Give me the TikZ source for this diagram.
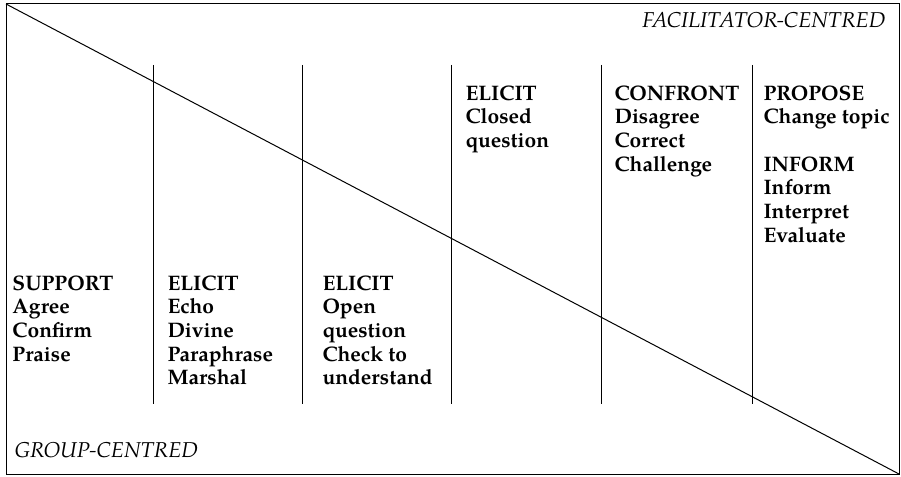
\documentclass[tikz,border=0pt]{standalone}
\usepackage{fontspec}
\setmainfont{TeX Gyre Pagella}
\usetikzlibrary{positioning}

\begin{document}
\begin{tikzpicture}[x=1pt, y=-1pt, line width=1pt,
  moves/.style={anchor=base west, align=left, inner sep=0pt, font=\fontsize{21}{23.7}\selectfont\bfseries},
  pole/.style={inner sep=0pt, font=\fontsize{21.5}{24}\selectfont\itshape}]
    \useasboundingbox (0,0) rectangle (901,476);
    % frame and diagonal
    \draw (6,4) rectangle (899,474);
    \draw (6,4) -- (899,474);
    % column rules
    \foreach \x in {153,302,451,601,752} \draw (\x,65) -- (\x,404);
    % the two poles
    \node[pole, anchor=base east] (facil) at (886,28) {FACILITATOR-CENTRED};
    \node[pole, anchor=base west] (group) at (14,457) {GROUP-CENTRED};
    % moves below the diagonal (placed at the baseline of their last line)
    \node[moves] (support) at (12,361.1) {SUPPORT\\Agree\\Confirm\\Praise};
    \node[moves] (echo) at (167,384.8) {ELICIT\\Echo\\Divine\\Paraphrase\\Marshal};
    \node[moves] (open) at (322,384.8) {ELICIT\\Open\\question\\Check to\\understand};
    % moves above the diagonal
    \node[moves] (closed) at (465,147.4) {ELICIT\\Closed\\question};
    \node[moves] (confront) at (614,171.1) {CONFRONT\\Disagree\\Correct\\Challenge};
    \node[moves] (propose) at (763,242.2) {PROPOSE\\Change topic\\[23.7pt]INFORM\\Inform\\Interpret\\Evaluate};
\end{tikzpicture}
\end{document}
